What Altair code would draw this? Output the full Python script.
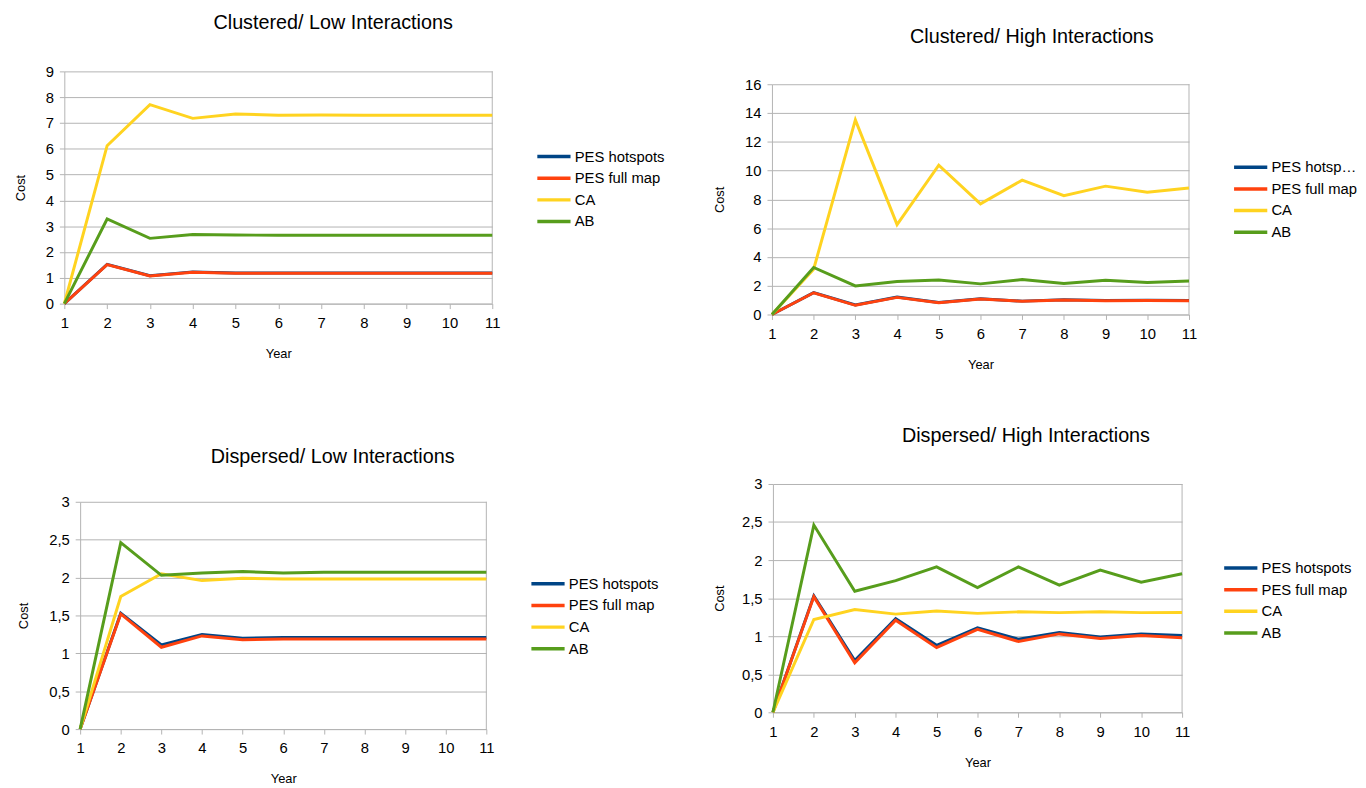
import altair as alt
import pandas as pd

years = list(range(1, 12))
series = ["PES hotspots", "PES full map", "CA", "AB"]
palette = ["#004586", "#ff420e", "#ffd320", "#579d1c"]

# Clustered / Low Interactions
cl_low_hot = [0, 1.52, 1.08, 1.23, 1.19, 1.19, 1.19, 1.19, 1.19, 1.19, 1.19]
cl_low_full = [0, 1.51, 1.07, 1.22, 1.18, 1.18, 1.18, 1.18, 1.18, 1.18, 1.18]
cl_low_ca = [0, 6.12, 7.71, 7.18, 7.35, 7.30, 7.31, 7.30, 7.30, 7.30, 7.30]
cl_low_ab = [0, 3.28, 2.53, 2.68, 2.66, 2.65, 2.65, 2.65, 2.65, 2.65, 2.65]

# Clustered / High Interactions
cl_high_hot = [0, 1.52, 0.66, 1.21, 0.84, 1.09, 0.93, 1.02, 0.97, 0.99, 0.97]
cl_high_full = [0, 1.51, 0.64, 1.19, 0.82, 1.08, 0.92, 1.01, 0.96, 0.98, 0.96]
cl_high_ca = [0, 3.15, 13.52, 6.25, 10.37, 7.69, 9.34, 8.26, 8.92, 8.49, 8.79]
cl_high_ab = [0, 3.27, 1.99, 2.29, 2.40, 2.13, 2.43, 2.15, 2.38, 2.22, 2.33]

# Dispersed / Low Interactions
di_low_hot = [0, 1.53, 1.11, 1.25, 1.20, 1.21, 1.21, 1.21, 1.21, 1.21, 1.21]
di_low_full = [0, 1.52, 1.08, 1.23, 1.18, 1.19, 1.19, 1.19, 1.19, 1.19, 1.19]
di_low_ca = [0, 1.75, 2.05, 1.96, 1.99, 1.98, 1.98, 1.98, 1.98, 1.98, 1.98]
di_low_ab = [0, 2.46, 2.03, 2.06, 2.08, 2.06, 2.07, 2.07, 2.07, 2.07, 2.07]

# Dispersed / High Interactions
di_high_hot = [0, 1.53, 0.68, 1.23, 0.88, 1.11, 0.96, 1.05, 0.99, 1.03, 1.01]
di_high_full = [0, 1.52, 0.65, 1.21, 0.85, 1.09, 0.93, 1.03, 0.97, 1.01, 0.98]
di_high_ca = [0, 1.22, 1.35, 1.29, 1.33, 1.30, 1.32, 1.31, 1.32, 1.31, 1.31]
di_high_ab = [0, 2.46, 1.59, 1.73, 1.91, 1.64, 1.91, 1.67, 1.87, 1.71, 1.82]

ticks_cl_low = [0, 1, 2, 3, 4, 5, 6, 7, 8, 9]
ticks_cl_high = [0, 2, 4, 6, 8, 10, 12, 14, 16]
ticks_di = [0, 0.5, 1, 1.5, 2, 2.5, 3]

FONT = "Liberation Sans"
GRAY = "#b3b3b3"


def panel(title, cols, yticks, pw, ph, title_dx, title_offset, leg_x, leg_y,
          inset_left=0, inset_top=0, title_lh=19.5, label_limit=200,
          ytitle_pad=18):
    rows = []
    for name, vals in zip(series, cols):
        for yr, v in zip(years, vals):
            rows.append({"Year": yr, "Cost": v, "Series": name})
    df = pd.DataFrame(rows)
    w = pw + inset_left
    h = ph + inset_top
    xs = alt.Scale(domain=[years[0], years[-1]], nice=False, zero=False,
                   range=[inset_left, w])
    ys = alt.Scale(domain=[yticks[0], yticks[-1]], nice=False,
                   range=[h, inset_top])
    x_axis = alt.Axis(values=years, format="d", grid=False, title="Year",
                      labelFontSize=15, labelPadding=7, titlePadding=17.5,
                      labelOverlap=False, labelFlush=False)
    yaxis_kw = dict(values=yticks, grid=True, title="Cost", format="~g",
                    labelExpr="replace(datum.label, '.', ',')",
                    labelFontSize=15, labelPadding=6, titlePadding=ytitle_pad,
                    labelOverlap=False, labelFlush=False)
    if inset_left:
        yaxis_kw["offset"] = -inset_left
    y_axis = alt.Axis(**yaxis_kw)

    lines = alt.Chart(df).mark_line(strokeWidth=3).encode(
        x=alt.X("Year:Q", scale=xs, axis=x_axis),
        y=alt.Y("Cost:Q", scale=ys, axis=y_axis),
        color=alt.Color("Series:N", sort=series,
                        scale=alt.Scale(domain=series, range=palette),
                        legend=alt.Legend(title=None, orient="none",
                                          legendX=leg_x, legendY=leg_y,
                                          symbolType="M-2.1,0H2.1",
                                          symbolSize=256,
                                          symbolStrokeWidth=3.5,
                                          labelFontSize=15, labelOffset=11,
                                          rowPadding=3.9, padding=0,
                                          labelLimit=label_limit)),
    )
    edge = pd.DataFrame({"Year": [years[-1]], "Cost": [yticks[0]],
                         "hi": [yticks[-1]]})
    border = alt.Chart(edge).mark_rule(color=GRAY, strokeWidth=1).encode(
        x=alt.X("Year:Q", scale=xs, axis=x_axis),
        y=alt.Y("Cost:Q", scale=ys, axis=y_axis),
        y2="hi:Q",
    )
    return alt.layer(border, lines).properties(
        width=w, height=h,
        title=alt.TitleParams(text=title, fontSize=20, fontWeight="normal",
                              color="black", anchor="middle", frame="group",
                              dx=title_dx, offset=title_offset,
                              lineHeight=title_lh),
    )


tl = panel("Clustered/ Low Interactions",
           [cl_low_hot, cl_low_full, cl_low_ca, cl_low_ab],
           ticks_cl_low, 433, 235, 55.5, 31.5, 485.4, 76.2)
tr = panel("Clustered/ High Interactions",
           [cl_high_hot, cl_high_full, cl_high_ca, cl_high_ab],
           ticks_cl_high, 422, 233, 52, 25, 474.4, 87,
           inset_top=13, label_limit=88)
bl = panel(["", "Dispersed/ Low Interactions"],
           [di_low_hot, di_low_full, di_low_ca, di_low_ab],
           ticks_di, 411, 230, 58, 28, 479.4, 73,
           inset_left=16, title_lh=21)
br = panel("Dispersed/ High Interactions",
           [di_high_hot, di_high_full, di_high_ca, di_high_ab],
           ticks_di, 414, 231, 49, 31, 463.4, 75, ytitle_pad=15)

chart = alt.concat(tl, tr, bl, br, columns=2, align="none",
                   spacing={"row": 54.5, "column": 48}).resolve_scale(
    color="independent"
).configure(font=FONT).configure_view(stroke="transparent").configure_axis(
    domainColor=GRAY, tickColor=GRAY, gridColor=GRAY, tickSize=5,
    labelColor="black", titleColor="black", labelFont=FONT, titleFont=FONT,
    titleFontSize=13, titleFontWeight="normal",
).configure_legend(labelColor="black", labelFont=FONT).properties(
    padding={"left": 6, "top": 0.5, "right": 0, "bottom": 0}
)

chart.save("out.html", embed_options={"renderer": "svg", "actions": False})
